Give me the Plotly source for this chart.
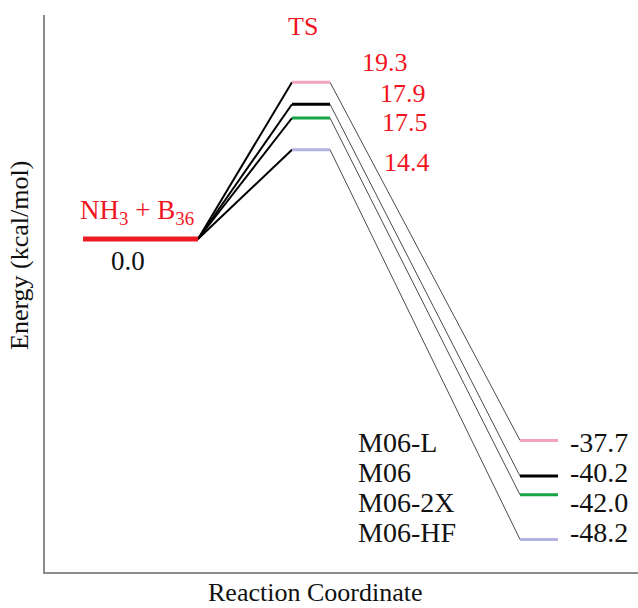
import plotly.graph_objects as go

# ---------------- data ----------------
methods = ["M06-L", "M06", "M06-2X", "M06-HF"]
reactant_energy = 0.0
ts_energy = [19.3, 17.9, 17.5, 14.4]          # kcal/mol (labels)
product_energy = [-37.7, -40.2, -42.0, -48.2]  # kcal/mol (labels)
# schematic (not-to-scale) level heights as drawn in the diagram, in axis units
drawn_ts = [19.3, 16.6, 14.9, 11.0]
drawn_product = [-24.8, -29.2, -31.5, -37.0]
level_colors = ["#F4A3BE", "#000000", "#16A544", "#B3B0E3"]
reactant_label = "NH<sub>3</sub> + B<sub>36</sub>"
ts_label = "TS"
x_title = "Reaction Coordinate"
y_title = "Energy (kcal/mol)"

# ---------------- layout helpers ----------------
W, H = 638, 608
ML, MR, MT, MB = 45, 0, 15, 36
PW, PH = W - ML - MR, H - MT - MB
PX_PER_X = 100.0
Y0_PX = 239.0
PX_PER_Y = 8.12
x_range = [0, PW / PX_PER_X]
y_range = [-(H - MB - Y0_PX) / PX_PER_Y, (Y0_PX - MT) / PX_PER_Y]

def px_x(px):
    return (px - ML) / PX_PER_X

def px_y(py):
    return (Y0_PX - py) / PX_PER_Y

def paper_x(px):
    return (px - ML) / PW

def paper_y(py):
    return (H - MB - py) / PH

# stage extents (axis units)
react_x = [px_x(83), px_x(198)]
ts_x = [px_x(292), px_x(330)]
prod_x = [px_x(520), px_x(558)]

FONT = "'Liberation Serif', 'DejaVu Serif', serif"
RED = "#F0141E"
INK = "#111111"

fig = go.Figure()

# connectors reactant -> TS
for i, m in enumerate(methods):
    fig.add_trace(go.Scatter(x=[react_x[1], ts_x[0]], y=[reactant_energy, drawn_ts[i]],
                             mode="lines", line=dict(color="#000000", width=2),
                             showlegend=False, hoverinfo="skip"))
# connectors TS -> product
for i, m in enumerate(methods):
    fig.add_trace(go.Scatter(x=[ts_x[1], prod_x[0]], y=[drawn_ts[i], drawn_product[i]],
                             mode="lines", line=dict(color="#4a4a4a", width=1),
                             showlegend=False, hoverinfo="skip"))
# reactant level
fig.add_trace(go.Scatter(x=react_x, y=[reactant_energy, reactant_energy], mode="lines",
                         line=dict(color="#EE1B24", width=5),
                         showlegend=False, hoverinfo="skip"))
# TS and product levels
for i, m in enumerate(methods):
    fig.add_trace(go.Scatter(x=ts_x, y=[drawn_ts[i]] * 2, mode="lines",
                             line=dict(color=level_colors[i], width=3), name=m,
                             showlegend=False))
    fig.add_trace(go.Scatter(x=prod_x, y=[drawn_product[i]] * 2, mode="lines",
                             line=dict(color=level_colors[i], width=3), name=m,
                             showlegend=False))

ann = []

def add_px(text, px, py, size, color, xanchor="center", angle=0):
    ann.append(dict(x=paper_x(px), y=paper_y(py), xref="paper", yref="paper",
                    text=text, showarrow=False, textangle=angle,
                    font=dict(family=FONT, size=size, color=color),
                    xanchor=xanchor, yanchor="middle"))

# TS energy labels
ts_label_px = [(385, 62), (403, 93), (405, 123), (407, 162)]
for e, (lx, ly) in zip(ts_energy, ts_label_px):
    add_px(f"{e:.1f}", lx, ly, 26, RED)
# product energy labels + method names
for i, (m, e) in enumerate(zip(methods, product_energy)):
    row = 442 + 30.3 * i
    add_px(f"{e:.1f}", 568, row, 28, INK, xanchor="left")
    add_px(m, 356, row, 28, INK, xanchor="left")
# TS title
add_px(ts_label, 303, 26, 26, RED)
# reactant label and energy
add_px(reactant_label, 137, 212, 27, RED)
add_px(f"{reactant_energy:.1f}", 128, 261, 27, INK)
# axis titles
add_px(x_title, 315, 593, 26, INK)
add_px(y_title, 19, 256, 26, INK, angle=-90)

fig.update_layout(
    width=W, height=H,
    margin=dict(l=ML, r=MR, t=MT, b=MB),
    paper_bgcolor="white", plot_bgcolor="white",
    font=dict(family=FONT),
    annotations=ann,
    xaxis=dict(range=x_range, showline=True, linecolor="#8c8c8c", linewidth=2,
               showticklabels=False, ticks="", showgrid=False, zeroline=False,
               fixedrange=True),
    yaxis=dict(range=y_range, showline=True, linecolor="#8c8c8c", linewidth=2,
               showticklabels=False, ticks="", showgrid=False, zeroline=False,
               fixedrange=True),
)

fig.write_html("out.html")
